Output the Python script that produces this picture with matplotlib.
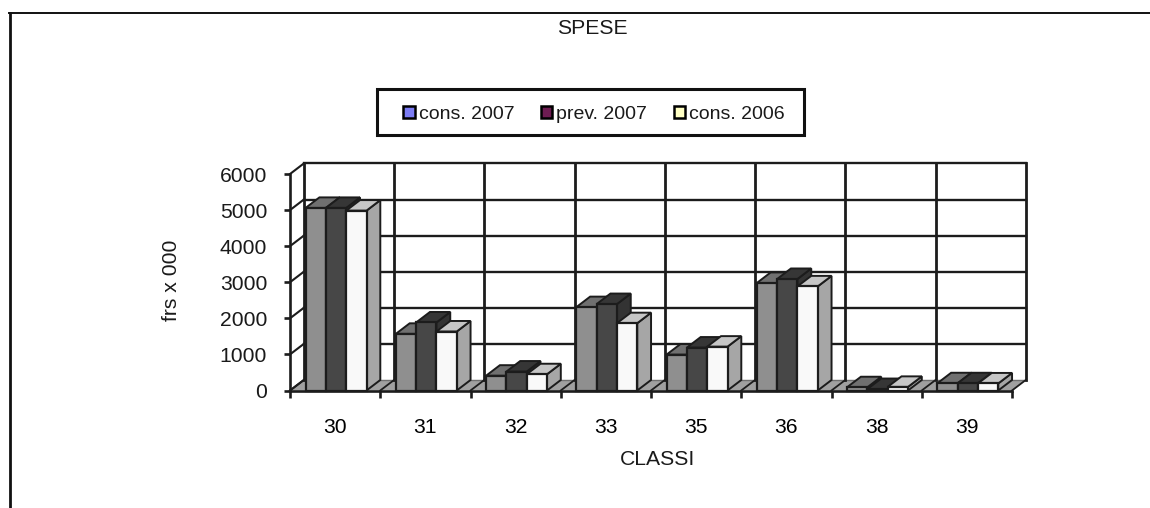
import matplotlib
matplotlib.use('Agg')
import matplotlib.pyplot as plt
from matplotlib.patches import Polygon, Patch, Rectangle
from matplotlib.lines import Line2D

plt.rcParams['font.family'] = ['Liberation Sans', 'DejaVu Sans']
plt.rcParams['font.size'] = 15.2
plt.rcParams['text.color'] = '#1a1a1a'
plt.rcParams['axes.labelcolor'] = '#1a1a1a'

classi = ['30', '31', '32', '33', '35', '36', '38', '39']
cons_2007 = [5060, 1570, 410, 2310, 995, 2980, 90, 200]
prev_2007 = [5060, 1885, 525, 2395, 1190, 3090, 40, 200]
cons_2006 = [4985, 1635, 450, 1865, 1215, 2885, 100, 195]
y_ticks = [0, 1000, 2000, 3000, 4000, 5000, 6000]

W, H = 1150, 508
LINE = '#1c1c1c'
# depth of the fake 3d box, in data units
DX = 13.8 / 90.25
DY = 10.5 / 36 * 1000
BAR_W = 20.3 / 90.25
BAR_START = 15.6 / 90.25
front = ['#8f8f8f', '#474747', '#f9f9f9']
top = ['#707070', '#363636', '#c6c6c6']
side = ['#8a8a8a', '#333333', '#a6a6a6']
keys = ['#7c7cf4', '#6e1c52', '#ffffc4']

fig = plt.figure(figsize=(W / 100, H / 100), dpi=100)
fig.patch.set_facecolor('white')

# outer frame, cut by the page on the right and at the bottom
fig.add_artist(Line2D([9.5 / W, 9.5 / W], [0, 1 - 13 / H], color='#111111', lw=2.0))
fig.add_artist(Line2D([8.5 / W, 1], [1 - 13 / H, 1 - 13 / H], color='#111111', lw=1.4))

ax = fig.add_axes([290 / W, 1 - 390.5 / H, 722 / W, 216.5 / H])
ax.set_xlim(0, 8)
ax.set_ylim(0, 6000)
ax.patch.set_visible(False)
for s in ['top', 'right']:
    ax.spines[s].set_visible(False)
for s in ['left', 'bottom']:
    ax.spines[s].set_linewidth(1.9)
    ax.spines[s].set_color(LINE)

ax.set_xticks(range(9))
ax.set_xticks([i + 0.5 for i in range(8)], classi, minor=True)
ax.tick_params(axis='x', which='major', labelbottom=False, length=5, width=1.9, color=LINE)
ax.tick_params(axis='x', which='minor', length=0, pad=20)
ax.set_yticks(y_ticks)
ax.tick_params(axis='y', length=4.5, width=1.9, color=LINE, pad=12, labelcolor='#1a1a1a')

# floor
ax.add_patch(Polygon([(0, 0), (8, 0), (8 + DX, DY), (DX, DY)], closed=True,
                     fc='#a0a0a0', ec='none', clip_on=False, zorder=1))
for i in range(9):
    ax.plot([i, i + DX], [0, DY], color=LINE, lw=1.3, clip_on=False, zorder=1.2)

# back wall grid and side wall
for v in y_ticks:
    if v > 0:
        ax.plot([DX, 8 + DX], [v + DY, v + DY], color=LINE, lw=1.7, clip_on=False, zorder=1.5)
    ax.plot([0, DX], [v, v + DY], color=LINE, lw=1.5, clip_on=False, zorder=1.5)
ax.plot([DX, 8 + DX], [DY, DY], color='#707070', lw=1.0, clip_on=False, zorder=1.1)
for i in range(9):
    ax.plot([i + DX, i + DX], [DY, 6000 + DY], color=LINE, lw=2.0, clip_on=False, zorder=1.5)

# each bar overlaps only the one on its left, so draw left to right
series = [cons_2007, prev_2007, cons_2006]
z = 3
for i in range(8):
    for j, vals in enumerate(series):
        v = vals[i]
        x0 = i + BAR_START + j * BAR_W
        x1 = x0 + BAR_W
        ax.add_patch(Polygon([(x1, 0), (x1 + DX, DY), (x1 + DX, v + DY), (x1, v)], closed=True,
                             fc=side[j], ec=LINE, lw=1.4, clip_on=False, zorder=z))
        ax.add_patch(Polygon([(x0, v), (x1, v), (x1 + DX, v + DY), (x0 + DX, v + DY)], closed=True,
                             fc=top[j], ec=LINE, lw=1.4, clip_on=False, zorder=z))
        ax.add_patch(Polygon([(x0, 0), (x1, 0), (x1, v), (x0, v)], closed=True,
                             fc=front[j], ec=LINE, lw=1.6, clip_on=False, zorder=z))
        z += 1

ax.set_ylabel('frs x 000', labelpad=28, y=0.51)
ax.set_xlabel('CLASSI', labelpad=9.5, x=(657.7 - 290) / 722)
fig.text(592 / W, 1 - 28 / H, 'SPESE', ha='center', va='center')

# legend box is wider than tall padding allows, so the frame is drawn apart
fig.add_artist(Rectangle((376.5 / W, 1 - 135 / H), 427 / W, 46 / H, transform=fig.transFigure,
                         fc='white', ec='#111111', lw=2.2))
handles = [Patch(fc=c, ec='black', lw=1.8) for c in keys]
leg = fig.legend(handles, ['cons. 2007', 'prev. 2007', 'cons. 2006'], ncol=3,
                 loc='center', bbox_to_anchor=(594 / W, 1 - 114.5 / H), frameon=False,
                 fontsize=14, handlelength=0.58, handleheight=0.58, handletextpad=0.2,
                 columnspacing=1.38, borderpad=0, borderaxespad=0)

fig.savefig('out.png', dpi=100)
